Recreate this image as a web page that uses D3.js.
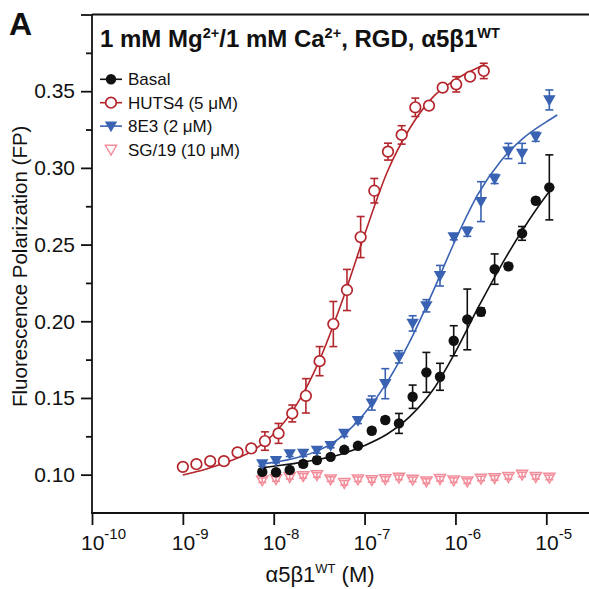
<!DOCTYPE html>
<html>
<head>
<meta charset="utf-8">
<script src="https://cdn.jsdelivr.net/npm/d3@7"></script>
<style>
body { margin: 0; background: #fff; }
svg text { font-family: Arial, "Liberation Sans", Helvetica, sans-serif; fill: #111; }
</style>
</head>
<body>
<div id="chart"></div>
<script>
// HUTS4 titration (M) and FP values
var hutsConc = [1.00e-9, 1.41e-9, 2.00e-9, 2.83e-9, 4.00e-9, 5.66e-9, 8.00e-9, 1.13e-8, 1.60e-8, 2.26e-8,
  3.20e-8, 4.53e-8, 6.40e-8, 9.05e-8, 1.28e-7, 1.81e-7, 2.56e-7, 3.62e-7, 5.12e-7, 7.24e-7,
  1.02e-6, 1.45e-6, 2.05e-6];
var hutsFP = [0.1051, 0.1068, 0.1088, 0.1088, 0.1145, 0.1171, 0.1219, 0.1269, 0.1399, 0.1514,
  0.1740, 0.1982, 0.2204, 0.2549, 0.2851, 0.3106, 0.3215, 0.3395, 0.3406, 0.3523,
  0.3545, 0.3595, 0.3632];
var hutsErr = [0.001, 0.001, 0.0012, 0.0015, 0.0012, 0.0015, 0.006, 0.0065, 0.0055, 0.0112,
  0.0095, 0.0147, 0.0134, 0.0134, 0.008, 0.0055, 0.006, 0.006, 0.002, 0.0015,
  0.005, 0.002, 0.005];

// shared titration for Basal, 8E3 and SG/19
var conc = [7.48e-9, 1.06e-8, 1.50e-8, 2.11e-8, 2.99e-8, 4.23e-8, 5.98e-8, 8.45e-8, 1.20e-7, 1.69e-7,
  2.39e-7, 3.38e-7, 4.79e-7, 6.76e-7, 9.57e-7, 1.35e-6, 1.91e-6, 2.70e-6, 3.83e-6, 5.41e-6,
  7.66e-6, 1.08e-5];
var basalFP = [0.1018, 0.1016, 0.1031, 0.1070, 0.1095, 0.1116, 0.1162, 0.1188, 0.1286, 0.1356,
  0.1334, 0.1508, 0.1667, 0.1638, 0.1873, 0.2012, 0.2062, 0.2340, 0.2358, 0.2573,
  0.2786, 0.2873];
var basalErr = [0.0015, 0.0015, 0.0015, 0.002, 0.002, 0.0015, 0.0015, 0.0015, 0.002, 0.002,
  0.0065, 0.0076, 0.013, 0.0088, 0.0098, 0.0198, 0.0025, 0.0099, 0.002, 0.0045,
  0.002, 0.0212];
var e3FP = [0.1070, 0.1092, 0.1136, 0.1139, 0.1158, 0.1190, 0.1269, 0.1353, 0.1467, 0.1593,
  0.1768, 0.1986, 0.2101, 0.2297, 0.2551, 0.2584, 0.2780, 0.2928, 0.3110, 0.3095,
  0.3203, 0.3443];
var e3Err = [0.0015, 0.0015, 0.0018, 0.002, 0.0018, 0.0015, 0.002, 0.002, 0.0046, 0.0098,
  0.004, 0.005, 0.004, 0.0067, 0.002, 0.003, 0.013, 0.003, 0.005, 0.0065,
  0.003, 0.0065];
var sgFP = [0.0964, 0.0972, 0.0986, 0.0992, 0.0998, 0.0971, 0.0947, 0.0970, 0.0966, 0.0972,
  0.0982, 0.0969, 0.0958, 0.0973, 0.0964, 0.0958, 0.0975, 0.0979, 0.0986, 0.1001,
  0.0986, 0.0982];
var sgErr = [0.0015, 0.0015, 0.0015, 0.0015, 0.0015, 0.0015, 0.0015, 0.0015, 0.0015, 0.0015,
  0.0015, 0.0015, 0.0015, 0.0015, 0.0015, 0.0015, 0.0015, 0.0015, 0.0015, 0.0015,
  0.0015, 0.0015];

// fitted curves
var hutsFitConc = [1e-9, 1.78e-9, 3.16e-9, 5.62e-9, 1e-8, 1.78e-8, 3.16e-8, 5.62e-8, 1e-7, 1.78e-7,
  3.16e-7, 5.62e-7, 1e-6, 1.78e-6, 2.05e-6];
var hutsFitFP = [0.0998, 0.1035, 0.1085, 0.1150, 0.1265, 0.1455, 0.1740, 0.2125, 0.2565, 0.2975,
  0.3260, 0.3460, 0.3575, 0.3655, 0.3670];
var basalFitConc = [7.48e-9, 1e-8, 1.78e-8, 3.16e-8, 5.62e-8, 1e-7, 1.78e-7, 3.16e-7, 5.62e-7, 1e-6,
  1.78e-6, 3.16e-6, 5.62e-6, 1e-5, 1.2e-5];
var basalFitFP = [0.1045, 0.1055, 0.1075, 0.1100, 0.1135, 0.1190, 0.1265, 0.1380, 0.1550, 0.1800,
  0.2090, 0.2360, 0.2605, 0.2820, 0.2880];
var e3FitConc = [7.48e-9, 1e-8, 1.78e-8, 3.16e-8, 5.62e-8, 1e-7, 1.78e-7, 3.16e-7, 5.62e-7, 1e-6,
  1.78e-6, 3.16e-6, 5.62e-6, 1e-5, 1.32e-5];
var e3FitFP = [0.1070, 0.1080, 0.1110, 0.1160, 0.1250, 0.1400, 0.1605, 0.1870, 0.2190, 0.2530,
  0.2830, 0.3045, 0.3195, 0.3300, 0.3345];

var xTicks = [1e-10, 1e-9, 1e-8, 1e-7, 1e-6, 1e-5];
var xTickExp = ["-10", "-9", "-8", "-7", "-6", "-5"];
var yTicks = [0.10, 0.15, 0.20, 0.25, 0.30, 0.35, 0.40];
var yMinor = [0.125, 0.175, 0.225, 0.275, 0.325, 0.375];

var legendNames = ["Basal", "HUTS4 (5 \u03bcM)", "8E3 (2 \u03bcM)", "SG/19 (10 \u03bcM)"];

var black = "#111", red = "#b3262c", blue = "#3a62b2", pink = "#f28e9b";

var W = 589, H = 589;
var svg = d3.select("#chart").append("svg")
  .attr("width", W).attr("height", H);

var x = d3.scaleLog().domain([1e-10, Math.pow(10, -4.5)]).range([92, 92 + 5.5 * 90.86]);
var y = d3.scaleLinear().domain([0.075, 0.40]).range([513, 14.5]);

// axes
var yAx = svg.append("g").attr("transform", "translate(92,0)")
  .call(d3.axisLeft(y).tickValues(yTicks).tickSize(11).tickPadding(6)
    .tickFormat(function(d) { return d >= 0.399 ? "" : d3.format(".2f")(d); }));
yAx.select(".domain").remove();
yAx.selectAll("line").attr("stroke", black).attr("stroke-width", 1.8);
yAx.selectAll("text").attr("font-size", 21).attr("fill", black)
  .style("font-family", "Arial, 'Liberation Sans', sans-serif");

var yMin = svg.append("g").attr("transform", "translate(92,0)")
  .call(d3.axisLeft(y).tickValues(yMinor).tickSize(6).tickFormat(""));
yMin.select(".domain").remove();
yMin.selectAll("line").attr("stroke", black).attr("stroke-width", 1.8);

var xAx = svg.append("g").attr("transform", "translate(0,513)")
  .call(d3.axisBottom(x).tickValues(xTicks).tickSize(12).tickFormat(""));
xAx.select(".domain").remove();
xAx.selectAll("line").attr("stroke", black).attr("stroke-width", 1.8);

// frame lines: left, bottom, top
svg.append("line").attr("x1", 92).attr("x2", 92).attr("y1", y(0.40)).attr("y2", 513.9)
  .attr("stroke", black).attr("stroke-width", 1.8);
svg.append("line").attr("x1", 91.1).attr("x2", W).attr("y1", 513).attr("y2", 513)
  .attr("stroke", black).attr("stroke-width", 1.8);
svg.append("line").attr("x1", 92).attr("x2", W).attr("y1", y(0.40)).attr("y2", y(0.40))
  .attr("stroke", black).attr("stroke-width", 1.8);

// x tick labels 10^n
xTicks.forEach(function(t, i) {
  var tx = svg.append("text").attr("x", x(t) - 11).attr("y", 550).attr("font-size", 21);
  tx.append("tspan").text("10");
  tx.append("tspan").attr("dy", -11).attr("font-size", 15).text(xTickExp[i]);
});

// axis titles
var xt = svg.append("text").attr("x", 320).attr("y", 582).attr("text-anchor", "middle").attr("font-size", 22);
xt.append("tspan").text("\u03b15\u03b21");
xt.append("tspan").attr("dy", -9).attr("font-size", 13).text("WT");
xt.append("tspan").attr("dy", 9).text(" (M)");

svg.append("text").attr("transform", "translate(27,407) rotate(-90)")
  .attr("font-size", 20.5).text("Fluorescence Polarization (FP)");

// panel letter and title
svg.append("text").attr("x", 9).attr("y", 35).attr("font-size", 32).attr("font-weight", "bold").text("A");
var tt = svg.append("text").attr("x", 100).attr("y", 47).attr("font-size", 24).attr("font-weight", "bold");
tt.append("tspan").text("1 mM Mg");
tt.append("tspan").attr("dy", -9).attr("font-size", 14.5).text("2+");
tt.append("tspan").attr("dy", 9).text("/1 mM Ca");
tt.append("tspan").attr("dy", -9).attr("font-size", 14.5).text("2+");
tt.append("tspan").attr("dy", 9).text(", RGD, \u03b15\u03b21");
tt.append("tspan").attr("dy", -9).attr("font-size", 14.5).text("WT");

// fitted curves
var line = d3.line().x(function(d) { return x(d[0]); }).y(function(d) { return y(d[1]); })
  .curve(d3.curveMonotoneX);
function drawFit(cs, vs, col) {
  svg.append("path").datum(d3.zip(cs, vs)).attr("d", line)
    .attr("fill", "none").attr("stroke", col).attr("stroke-width", 1.6);
}
drawFit(hutsFitConc, hutsFitFP, red);
drawFit(basalFitConc, basalFitFP, black);
drawFit(e3FitConc, e3FitFP, blue);

// symbols
var triDown = "M-6.2,-4.6L6.2,-4.6L0,6.2Z";
function symbol(g, kind, col) {
  if (kind === "dot") g.append("circle").attr("r", 5.2).attr("fill", col);
  else if (kind === "ring") g.append("circle").attr("r", 5.3).attr("fill", "#fff")
    .attr("stroke", col).attr("stroke-width", 1.7);
  else if (kind === "tri") g.append("path").attr("d", triDown).attr("fill", col);
  else g.append("path").attr("d", "M-5.6,-4.2L5.6,-4.2L0,5.6Z").attr("fill", "none")
    .attr("stroke", col).attr("stroke-width", 1.5);
}

function drawSeries(cs, vs, es, col, kind, barsOnTop) {
  var g = svg.append("g");
  var data = d3.zip(cs, vs, es);
  function bars() {
    var b = g.append("g").attr("stroke", col).attr("stroke-width", 1.6);
    data.forEach(function(d) {
      var px = x(d[0]), y1 = y(d[1] + d[2]), y2 = y(d[1] - d[2]);
      b.append("line").attr("x1", px).attr("x2", px).attr("y1", y1).attr("y2", y2);
      b.append("line").attr("x1", px - 4).attr("x2", px + 4).attr("y1", y1).attr("y2", y1);
      b.append("line").attr("x1", px - 4).attr("x2", px + 4).attr("y1", y2).attr("y2", y2);
    });
  }
  if (!barsOnTop) bars();
  data.forEach(function(d) {
    symbol(g.append("g").attr("transform", "translate(" + x(d[0]) + "," + y(d[1]) + ")"), kind, col);
  });
  if (barsOnTop) bars();
}

drawSeries(conc, sgFP, sgErr, pink, "open", true);
drawSeries(conc, basalFP, basalErr, black, "dot", false);
drawSeries(conc, e3FP, e3Err, blue, "tri", false);
drawSeries(hutsConc, hutsFP, hutsErr, red, "ring", false);

// legend
var legKinds = ["dot", "ring", "tri", "open"];
var legCols = [black, red, blue, pink];
legendNames.forEach(function(name, i) {
  var ly = 79.3 + i * 23.4;
  if (i < 3) svg.append("line").attr("x1", 100).attr("x2", 122).attr("y1", ly).attr("y2", ly)
    .attr("stroke", legCols[i]).attr("stroke-width", 1.6);
  symbol(svg.append("g").attr("transform", "translate(111," + ly + ")"), legKinds[i], legCols[i]);
  svg.append("text").attr("x", 128).attr("y", ly + 6).attr("font-size", 17).text(name);
});
</script>
</body>
</html>
